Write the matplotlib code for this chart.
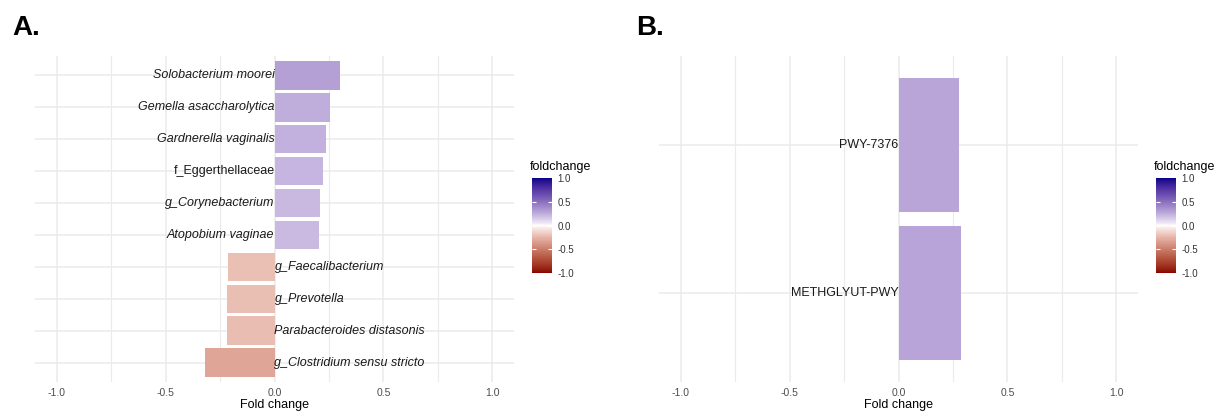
import numpy as np
import matplotlib
matplotlib.use("Agg")
import matplotlib.pyplot as plt
from matplotlib.colors import ListedColormap, Normalize
from matplotlib.cm import ScalarMappable

plt.rcParams['font.family'] = ['Liberation Sans', 'DejaVu Sans']

# panel A: taxa, ordered bottom to top
taxa = ['g_Clostridium sensu stricto', 'Parabacteroides distasonis', 'g_Prevotella',
        'g_Faecalibacterium', 'Atopobium vaginae', 'g_Corynebacterium',
        'f_Eggerthellaceae', 'Gardnerella vaginalis', 'Gemella asaccharolytica',
        'Solobacterium moorei']
taxa_fc = [-0.32, -0.22, -0.217, -0.213, 0.203, 0.207, 0.221, 0.238, 0.253, 0.30]
taxa_italic = [True, True, True, True, True, True, False, True, True, True]

# panel B: pathways, bottom to top
pathways = ['METHGLYUT-PWY', 'PWY-7376']
pathway_fc = [0.285, 0.28]

cbar_ticks = [-1.0, -0.5, 0.0, 0.5, 1.0]


# diverging gradient (darkred - white - darkblue), interpolated in Lab
def srgb_to_lab(rgb):
    rgb = np.asarray(rgb, float)
    lin = np.where(rgb <= 0.04045, rgb / 12.92, ((rgb + 0.055) / 1.055) ** 2.4)
    m = np.array([[0.4124, 0.3576, 0.1805],
                  [0.2126, 0.7152, 0.0722],
                  [0.0193, 0.1192, 0.9505]])
    xyz = m @ lin / np.array([0.95047, 1.0, 1.08883])
    f = np.where(xyz > 0.008856, np.cbrt(xyz), 7.787 * xyz + 16 / 116)
    return np.array([116 * f[1] - 16, 500 * (f[0] - f[1]), 200 * (f[1] - f[2])])


def lab_to_srgb(lab):
    L, a, b = lab
    fy = (L + 16) / 116
    fx = fy + a / 500
    fz = fy - b / 200
    f = np.array([fx, fy, fz])
    xyz = np.where(f ** 3 > 0.008856, f ** 3, (f - 16 / 116) / 7.787)
    xyz = xyz * np.array([0.95047, 1.0, 1.08883])
    minv = np.array([[3.2406, -1.5372, -0.4986],
                     [-0.9689, 1.8758, 0.0415],
                     [0.0557, -0.2040, 1.0570]])
    lin = minv @ xyz
    rgb = np.where(lin <= 0.0031308, 12.92 * lin, 1.055 * np.clip(lin, 0, None) ** (1 / 2.4) - 0.055)
    return np.clip(rgb, 0, 1)


LOW = srgb_to_lab([0x8B / 255, 0, 0])
MID = srgb_to_lab([1, 1, 1])
HIGH = srgb_to_lab([0, 0, 0x8B / 255])


def fc_color(v):
    t = abs(v) ** 0.85
    end = HIGH if v >= 0 else LOW
    return lab_to_srgb(MID + (end - MID) * t)


cmap = ListedColormap([fc_color(v) for v in np.linspace(-1, 1, 256)])
norm = Normalize(-1, 1)

W, H = 1219, 413
fig = plt.figure(figsize=(W / 100, H / 100), dpi=100)


def px_axes(x0, x1, y0, y1):
    return fig.add_axes([x0 / W, 1 - y1 / H, (x1 - x0) / W, (y1 - y0) / H])


def style_panel(ax, n):
    ax.set_xlim(-1.1, 1.1)
    ax.set_ylim(0.4, n + 0.6)
    ax.set_facecolor('white')
    for s in ax.spines.values():
        s.set_visible(False)
    ax.set_xticks([-1.0, -0.5, 0.0, 0.5, 1.0])
    ax.set_xticks([-0.75, -0.25, 0.25, 0.75], minor=True)
    ax.set_xticklabels(['-1.0', '-0.5', '0.0', '0.5', '1.0'])
    ax.set_yticks(range(1, n + 1))
    ax.set_yticklabels([])
    ax.tick_params(axis='both', which='both', length=0)
    ax.tick_params(axis='x', labelsize=7.5, labelcolor='#4d4d4d', pad=4)
    ax.grid(True, which='major', color='#ebebeb', linewidth=1.1)
    ax.grid(True, which='minor', axis='x', color='#ebebeb', linewidth=0.8)
    ax.set_axisbelow(True)
    ax.set_xlabel('Fold change', fontsize=9, labelpad=1)


def colorbar(x0):
    cax = px_axes(x0, x0 + 20, 178, 273)
    cb = fig.colorbar(ScalarMappable(norm=norm, cmap=cmap), cax=cax)
    cb.outline.set_visible(False)
    cb.set_ticks(cbar_ticks)
    cb.set_ticklabels(['%.1f' % t for t in cbar_ticks])
    cax.tick_params(length=0, labelsize=7, labelcolor='#333333', pad=4)
    tr = cax.get_yaxis_transform()
    cax.hlines(cbar_ticks[1:-1], 0, 0.2, colors='white', linewidth=0.8, transform=tr)
    cax.hlines(cbar_ticks[1:-1], 0.8, 1.0, colors='white', linewidth=0.8, transform=tr)
    fig.text((x0 - 2) / W, 1 - 167 / H, 'foldchange', fontsize=9, va='center', ha='left')


# panel A
axA = px_axes(35, 514, 56, 382)
style_panel(axA, len(taxa))
ya = np.arange(1, len(taxa) + 1)
axA.barh(ya, taxa_fc, height=0.9, color=[fc_color(v) for v in taxa_fc])
for y, name, v, it in zip(ya, taxa, taxa_fc, taxa_italic):
    axA.text(0, y, name, ha='right' if v > 0 else 'left', va='center', fontsize=9,
             style='italic' if it else 'normal', color='#1a1a1a')
colorbar(532)

# panel B
axB = px_axes(659, 1138, 56, 382)
style_panel(axB, len(pathways))
yb = np.arange(1, len(pathways) + 1)
axB.barh(yb, pathway_fc, height=0.9, color=[fc_color(v) for v in pathway_fc])
for y, name, v in zip(yb, pathways, pathway_fc):
    axB.text(0, y, name, ha='right' if v > 0 else 'left', va='center', fontsize=9,
             color='#1a1a1a')
colorbar(1156)

fig.text(12 / W, 1 - 28 / H, 'A.', fontsize=20, fontweight='bold', va='center')
fig.text(636 / W, 1 - 28 / H, 'B.', fontsize=20, fontweight='bold', va='center')

fig.savefig('out.png', dpi=100, facecolor='white')
